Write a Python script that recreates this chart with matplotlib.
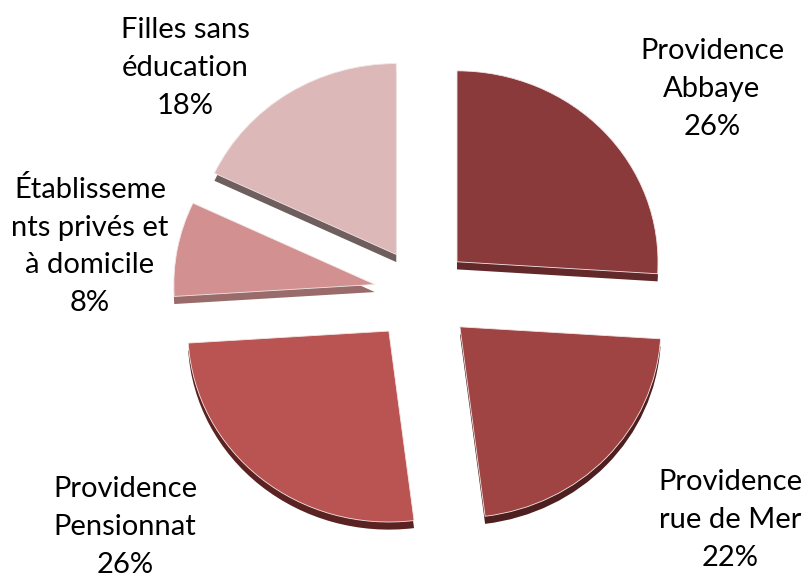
import matplotlib.pyplot as plt

labels = ['Providence\nAbbaye\n26%', 'Providence\nrue de Mer\n22%',
          'Providence\nPensionnat\n26%',
          'Établisseme\nnts privés et\nà domicile\n8%',
          'Filles sans\néducation\n18%']
values = [26, 22, 26, 8, 18]
colors = ['#8b3a3b', '#a04343', '#ba5452', '#d29190', '#ddb8b8']
sides = ['#63282a', '#4e1f1f', '#5a2322', '#9a6b6b', '#6f5e5e']
label_pos = [(712, 89), (730, 520), (125, 527), (90, 246), (185, 68)]

W, H = 809, 575
squash = 0.95  # slight tilt of the 3D pie
fig = plt.figure(figsize=(W / 100, H / 100), dpi=100)
ax = fig.add_axes([0, 0, 1, 1])


def ydat(ypx):
    return (H - ypx) / squash


cx, cy = 422, ydat(293)
r = 201
expl = [48, 52, 52, 48, 48]
depth = 8

# side walls: darker copy pushed down a bit
ax.pie(values, colors=sides, startangle=90, counterclock=False,
       radius=r, center=(cx, cy - depth), explode=expl,
       wedgeprops=dict(linewidth=0))
ax.pie(values, colors=colors, startangle=90, counterclock=False,
       radius=r, center=(cx, cy), explode=expl,
       wedgeprops=dict(linewidth=0.6, edgecolor='#f3e6e6'))

for lab, (x, y) in zip(labels, label_pos):
    ax.text(x, ydat(y), lab, ha='center', va='center', multialignment='center',
            fontsize=21, family='Lato', linespacing=1.55, color='#000000')

ax.set_xlim(0, W)
ax.set_ylim(0, H / squash)
ax.set_aspect('auto')
ax.axis('off')
fig.savefig('out.png', dpi=100)
